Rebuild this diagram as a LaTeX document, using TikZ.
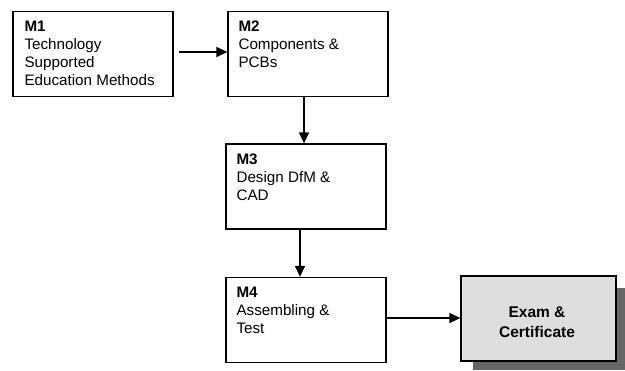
\documentclass[tikz,border=0pt]{standalone}
\usepackage{fontspec}
\setmainfont{Liberation Sans}
\usetikzlibrary{arrows.meta}
\begin{document}
\begin{tikzpicture}[x=1bp,y=-1bp,
  box/.style={draw=black,line width=1.3bp,fill=white,inner sep=0pt,minimum width=160bp,minimum height=85bp},
  exambox/.style={draw=black,line width=1.3bp,fill=black!13,inner sep=0pt,minimum width=155bp,minimum height=85bp},
  shadowbox/.style={fill=black!60,draw=none,inner sep=0pt,minimum width=152bp,minimum height=82bp},
  boxtext/.style={anchor=north west,inner sep=0pt,align=left,font=\fontsize{15.2bp}{18bp}\selectfont},
  arr/.style={line width=1.3bp,-{Triangle[length=11bp,width=10bp]}}]
\useasboundingbox[fill=white] (0,0) rectangle (625,370);
\node[box] (m1) at (93,54) {};
\node[box] (m2) at (308,54) {};
\node[box] (m3) at (306,186.5) {};
\node[box] (m4) at (306,320) {};
\node[shadowbox] (sh) at (549,329) {};
\node[exambox] (ex) at (538.5,318.5) {};
\node[boxtext] (t1) at ([shift={(12,10)}]m1.north west) {\textbf{M1}\\Technology\\Supported\\Education Methods};
\node[boxtext] (t2) at ([shift={(11,10)}]m2.north west) {\textbf{M2}\\Components \&\\PCBs};
\node[boxtext] (t3) at ([shift={(11,10)}]m3.north west) {\textbf{M3}\\Design DfM \&\\CAD};
\node[boxtext] (t4) at ([shift={(11,10)}]m4.north west) {\textbf{M4}\\Assembling \&\\Test};
\node[align=center,inner sep=0pt,font=\bfseries\fontsize{15.5bp}{20bp}\selectfont] (t5) at (537,322) {Exam \&\\Certificate};
\draw[arr] ([shift={(5,-2)}]m1.east) -- ([shift={(0,-2)}]m2.west);
\draw[arr] ([shift={(-4,0)}]m2.south) -- ([shift={(-4,0)}]m2.south |- m3.north);
\draw[arr] ([shift={(-6,0)}]m3.south) -- ([shift={(-6,0)}]m3.south |- m4.north);
\draw[arr] ([shift={(0,-2)}]m4.east) -- ([shift={(0,-2)}]m4.east -| ex.west);
\end{tikzpicture}
\end{document}
